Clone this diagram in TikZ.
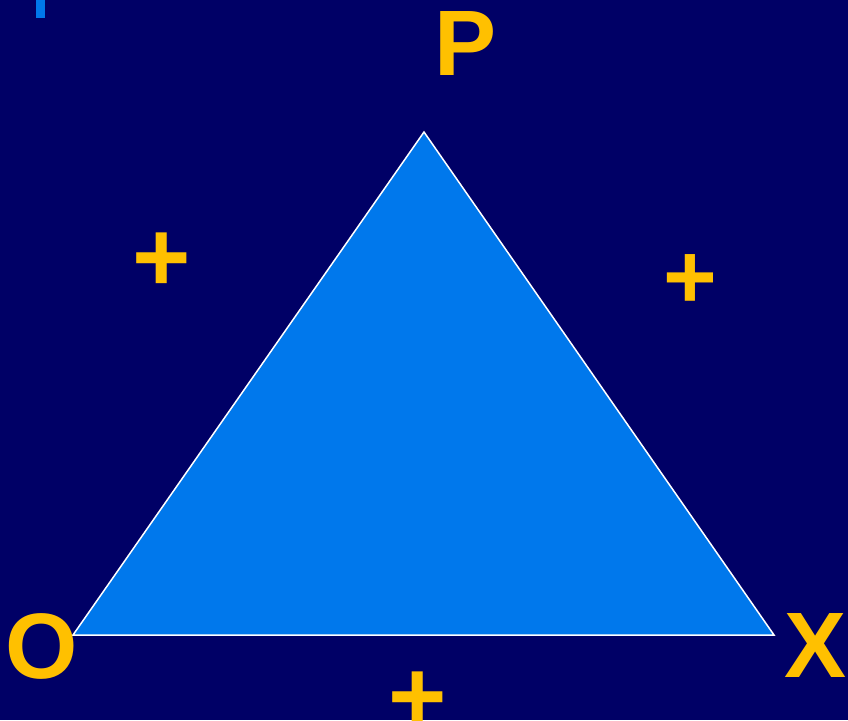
\documentclass[tikz,border=0pt]{standalone}
\usepackage{fontspec}
\setmainfont{Liberation Sans}
\definecolor{bg}{HTML}{000066}
\definecolor{tri}{HTML}{0078EC}
\definecolor{lab}{HTML}{FFC000}
\begin{document}
\begin{tikzpicture}[x=1pt,y=-1pt,
  lbl/.style={text=lab,font=\fontsize{93}{93}\selectfont\bfseries,inner sep=0pt},
  sgn/.style={text=lab,font=\fontsize{100}{100}\selectfont\bfseries,inner sep=0pt}]
\fill[bg] (0,0) rectangle (848,720);
\useasboundingbox (0,0) rectangle (848,720);
\fill[tri] (36,0) rectangle (45,18);
\coordinate (O) at (73,635);
\coordinate (P) at (424,132);
\coordinate (X) at (774,635);
\filldraw[fill=tri,draw=white,line width=1.5pt,line join=miter] (O) -- (P) -- (X) -- cycle;
\node[lbl] (lP) at (466,44) {P};
\node[lbl] (lO) at (42,646) {O};
\node[lbl] (lX) at (816,645) {X};
\node[sgn] (s1) at (162,262) {+};
\node[sgn,font=\fontsize{92}{92}\selectfont\bfseries] (s2) at (690,282) {+};
\node[sgn] (s3) at (418,701) {+};
\end{tikzpicture}
\end{document}
